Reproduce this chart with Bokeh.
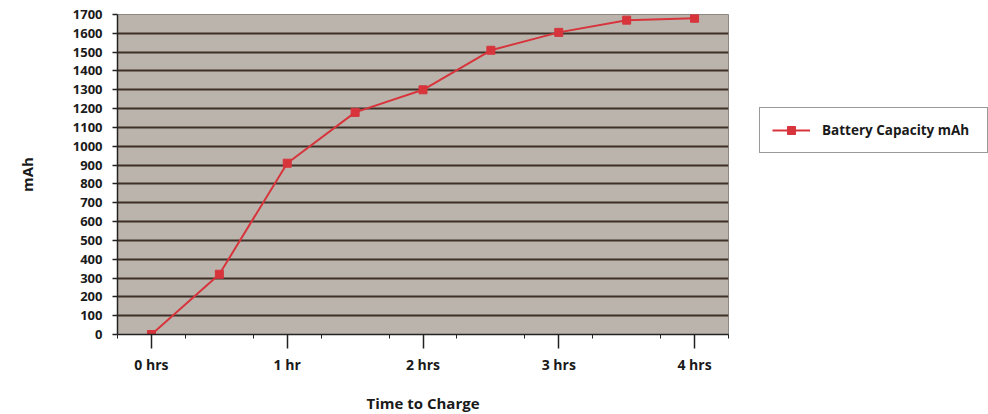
from bokeh.plotting import figure
from bokeh.models import FixedTicker, Legend, LegendItem, Range1d
from bokeh.embed import file_html
from bokeh.resources import INLINE

# Data
hours = [0, 0.5, 1, 1.5, 2, 2.5, 3, 3.5, 4]
capacity_mah = [0, 320, 910, 1180, 1300, 1510, 1605, 1670, 1680]
x_tick_values = [0, 1, 2, 3, 4]
x_tick_labels = ["0 hrs", "1 hr", "2 hrs", "3 hrs", "4 hrs"]
y_tick_values = list(range(0, 1800, 100))
series_name = "Battery Capacity mAh"

FONT = "Open Sans"
RED = "#d7343c"
GRID = "#3e2f27"
INK = "#1a1a1a"

p = figure(frame_width=611, frame_height=320, output_backend="svg", toolbar_location=None,
           x_range=Range1d(-0.25, 4.25), y_range=Range1d(0, 1700),
           min_border_left=117, min_border_right=260, min_border_top=14, min_border_bottom=78)

p.background_fill_color = "#bbb4ac"
p.border_fill_color = "white"
p.outline_line_color = "#8c8782"
p.outline_line_width = 1

p.xgrid.visible = False
p.ygrid.ticker = FixedTicker(ticks=y_tick_values)
p.ygrid.grid_line_color = GRID
p.ygrid.grid_line_width = 2

# x axis
p.xaxis.ticker = FixedTicker(ticks=x_tick_values,
                             minor_ticks=[-0.25 + 0.5 * i for i in range(10)])
p.xaxis.major_label_overrides = {v: l for v, l in zip(x_tick_values, x_tick_labels)}
p.xaxis.major_tick_in = 0
p.xaxis.major_tick_out = 14
p.xaxis.minor_tick_in = 0
p.xaxis.minor_tick_out = 4
p.xaxis.minor_tick_line_color = "#222222"
p.xaxis.major_label_standoff = 6
p.xaxis.major_label_text_font_size = "14px"
p.xaxis.axis_label = "Time to Charge"
p.xaxis.axis_label_standoff = 16

# y axis
p.yaxis.ticker = FixedTicker(ticks=y_tick_values)
p.yaxis.major_tick_in = 0
p.yaxis.major_tick_out = 5
p.yaxis.minor_tick_line_color = None
p.yaxis.major_label_standoff = 10
p.yaxis.major_label_text_font_size = "13px"
p.yaxis.axis_label = "mAh"
p.yaxis.axis_label_standoff = 33

for ax in (p.xaxis[0], p.yaxis[0]):
    ax.axis_line_color = "#222222"
    ax.axis_line_width = 1.5
    ax.major_tick_line_color = "#222222"
    ax.major_tick_line_width = 1.5
    ax.major_label_text_font = FONT
    ax.major_label_text_font_style = "bold"
    ax.major_label_text_color = INK
    ax.axis_label_text_font = FONT
    ax.axis_label_text_font_style = "bold"
    ax.axis_label_text_font_size = "15px"
    ax.axis_label_text_color = INK

line_r = p.line(hours, capacity_mah, line_color=RED, line_width=2)
pts_r = p.scatter(hours, capacity_mah, marker="square", size=8,
                  fill_color=RED, line_color=RED)

legend = Legend(items=[LegendItem(label=series_name, renderers=[line_r, pts_r])],
                location=(31, 181), orientation="vertical")
legend.margin = 0
legend.padding = 12
legend.glyph_width = 38
legend.glyph_height = 20
legend.label_height = 20
legend.label_standoff = 12
legend.label_width = 153
legend.label_text_font = FONT
legend.label_text_font_style = "bold"
legend.label_text_font_size = "13.5px"
legend.label_text_color = INK
legend.border_line_color = "#333333"
legend.border_line_width = 1.5
legend.background_fill_color = "white"
legend.background_fill_alpha = 1
p.add_layout(legend, "right")

open("out.html", "w").write(file_html(p, INLINE))
